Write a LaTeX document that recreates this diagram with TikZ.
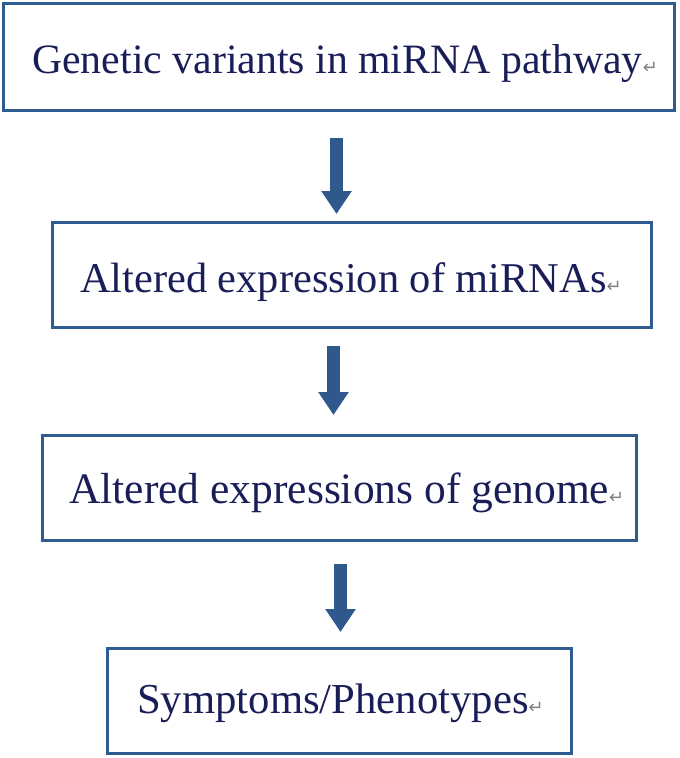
\documentclass[tikz,border=0pt]{standalone}
\usepackage{fontspec}
\setmainfont{Liberation Serif}
\newfontfamily\retfont{DejaVu Sans}
\usetikzlibrary{arrows.meta}
\definecolor{boxc}{RGB}{46,92,144}
\definecolor{arrc}{RGB}{47,88,140}
\definecolor{txtc}{RGB}{26,30,88}
\definecolor{retc}{RGB}{128,128,128}
\newcommand{\retmark}{{\retfont\fontsize{18}{18}\selectfont\color{retc}↵}}
\tikzset{
  box/.style={draw=boxc, line width=3pt, rectangle, inner sep=0pt, outer sep=0pt},
  lbl/.style={anchor=base west, inner sep=0pt, text=txtc},
  flow/.style={draw=arrc, line width=13pt, -{Triangle[width=29pt,length=23pt]}}
}
\begin{document}
\begin{tikzpicture}[x=1pt,y=-1pt]
\useasboundingbox (0,0) rectangle (680,758);
\node[box, minimum width=671pt, minimum height=106.5pt] (b1) at (339,56.75) {};
\node[box, minimum width=599pt, minimum height=105pt] (b2) at (351.5,275) {};
\node[box, minimum width=594pt, minimum height=105pt] (b3) at (339,487.5) {};
\node[box, minimum width=464pt, minimum height=105pt] (b4) at (339,700.5) {};
\node[lbl, font=\fontsize{41.8}{48}\selectfont] (t1) at (32,73) {Genetic variants in miRNA pathway\retmark};
\node[lbl, font=\fontsize{42.4}{48}\selectfont] (t2) at (80,292) {Altered expression of miRNAs\retmark};
\node[lbl, font=\fontsize{43.5}{48}\selectfont] (t3) at (69,503) {Altered expressions of genome\retmark};
\node[lbl, font=\fontsize{42.7}{48}\selectfont] (t4) at (137,713) {Symptoms/Phenotypes\retmark};
\coordinate (a1s) at (336.5,138);
\coordinate (a1e) at (336.5,214);
\coordinate (a2s) at (333.5,346);
\coordinate (a2e) at (333.5,415);
\coordinate (a3s) at (340.5,564);
\coordinate (a3e) at (340.5,632);
\draw[flow] (a1s) -- (a1e);
\draw[flow] (a2s) -- (a2e);
\draw[flow] (a3s) -- (a3e);
\end{tikzpicture}
\end{document}
